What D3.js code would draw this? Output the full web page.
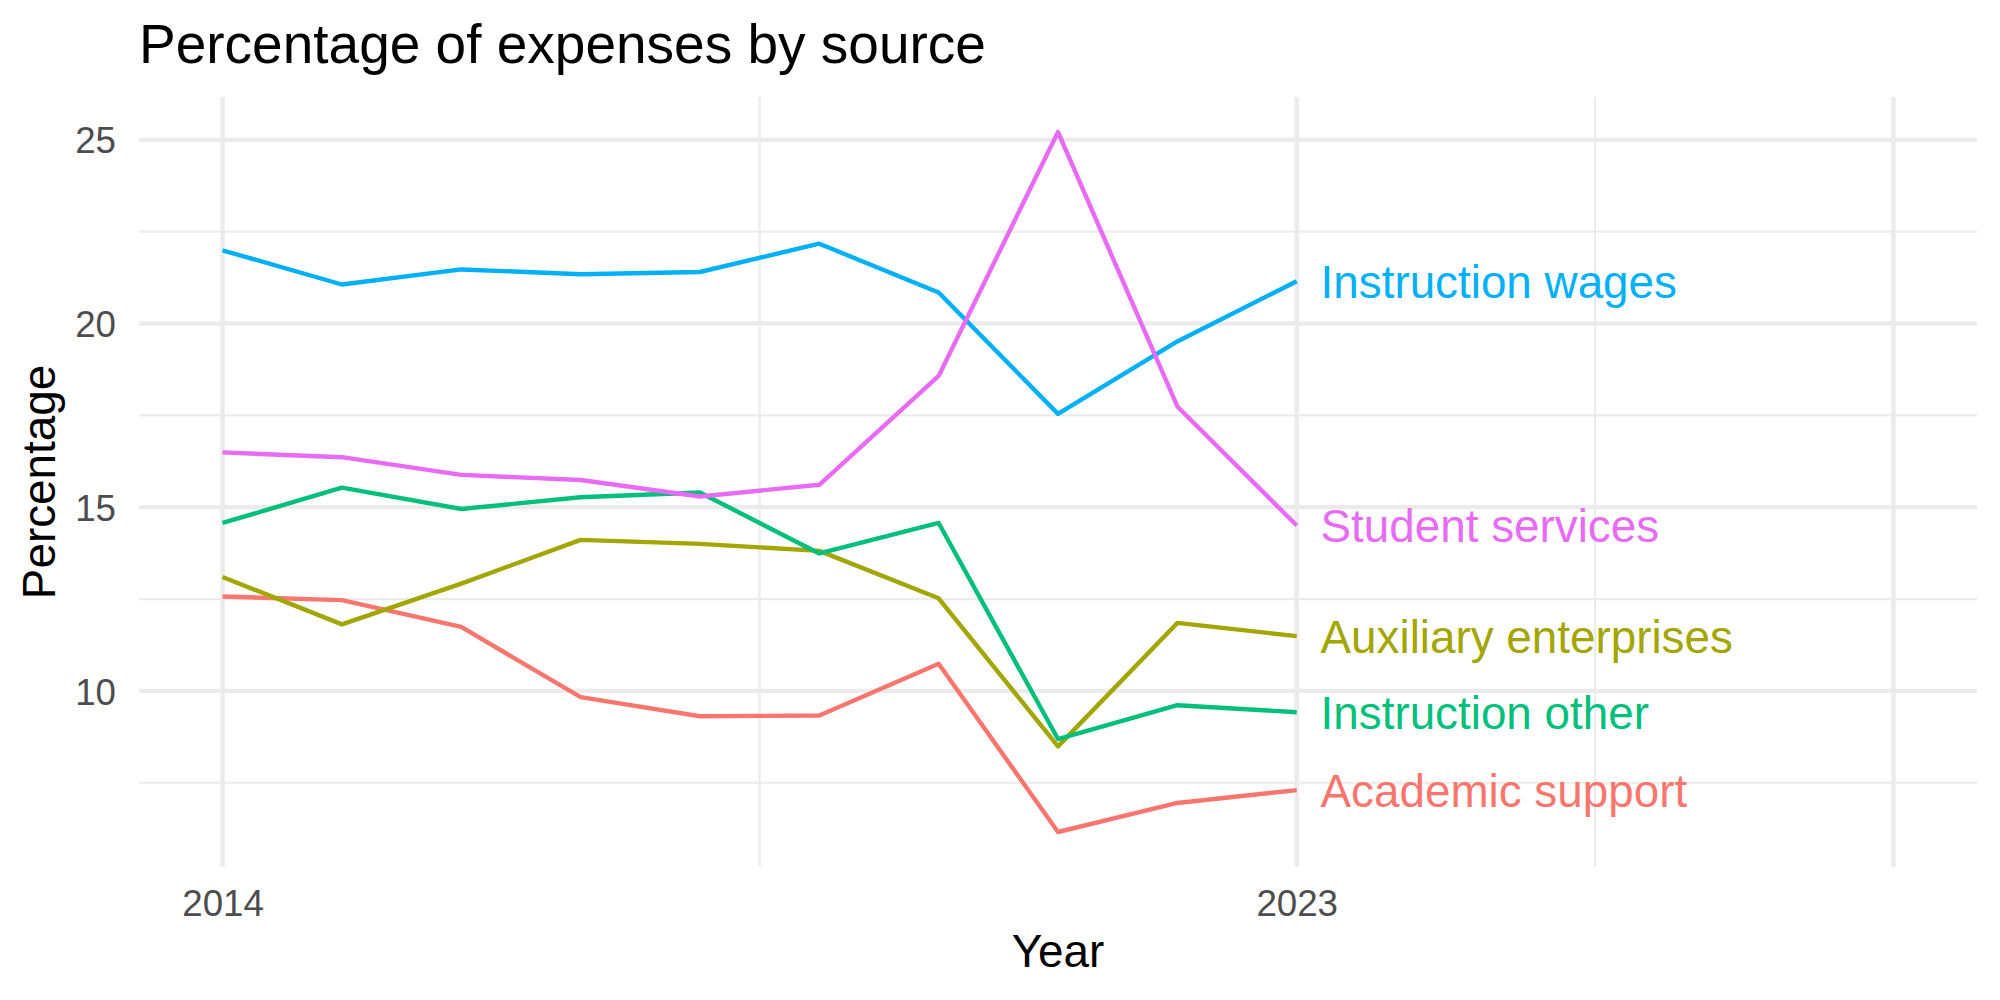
<!DOCTYPE html>
<html>
<head>
<meta charset="utf-8">
<script src="https://cdn.jsdelivr.net/npm/d3@7"></script>
<style>
  html, body { margin: 0; padding: 0; background: #fff; }
  text { font-family: "Liberation Sans", Arial, Helvetica, sans-serif; }
</style>
</head>
<body>
<div id="chart"></div>
<script>
// values
const years = [2014, 2015, 2016, 2017, 2018, 2019, 2020, 2021, 2022, 2023];
const categories = ["Academic support", "Auxiliary enterprises", "Instruction other", "Instruction wages", "Student services"];
const academicSupport = [12.57, 12.47, 11.74, 9.83, 9.31, 9.33, 10.74, 6.16, 6.95, 7.30];
const auxiliaryEnterprises = [13.10, 11.81, 12.92, 14.11, 14.00, 13.81, 12.52, 8.49, 11.85, 11.49];
const instructionOther = [14.57, 15.53, 14.95, 15.27, 15.40, 13.74, 14.57, 8.69, 9.61, 9.42];
const instructionWages = [21.99, 21.06, 21.47, 21.34, 21.40, 22.17, 20.84, 17.54, 19.51, 21.15];
const studentServices = [16.49, 16.36, 15.88, 15.74, 15.29, 15.61, 18.57, 25.21, 17.74, 14.50];
const seriesValues = [academicSupport, auxiliaryEnterprises, instructionOther, instructionWages, studentServices];
const colors = ["#F8766D", "#A3A500", "#00BF7D", "#00B0F6", "#E76BF3"];

const xLimits = [2014, 2028];
const xBreaks = [2014, 2023, 2028];
const xTickLabels = ["2014", "2023", ""];
const yBreaks = [10, 15, 20, 25];
const labelNudge = 0.2;

const width = 2000, height = 1000;
const margin = { top: 97, right: 23, bottom: 133, left: 139 };

const series = categories.map((name, i) => ({
    name: name,
    color: colors[i],
    values: years.map((yr, j) => ({ year: yr, value: seriesValues[i][j] }))
}));

// ggplot-style 5% expansion
const expand = (lo, hi) => {
    const pad = (hi - lo) * 0.05;
    return [lo - pad, hi + pad];
};

const allValues = seriesValues.flat();
const x = d3.scaleLinear()
    .domain(expand(xLimits[0], xLimits[1]))
    .range([margin.left, width - margin.right]);
const y = d3.scaleLinear()
    .domain(expand(d3.min(allValues), d3.max(allValues)))
    .range([height - margin.bottom, margin.top]);

const xMinor = d3.pairs(xBreaks).map(p => (p[0] + p[1]) / 2);
const yMinor = d3.pairs(yBreaks).map(p => (p[0] + p[1]) / 2);
yMinor.unshift(yBreaks[0] - 2.5);

const svg = d3.select("#chart")
    .append("svg")
    .attr("width", width)
    .attr("height", height);

const grid = svg.append("g").attr("stroke", "#EBEBEB");

grid.selectAll(".minor-y")
    .data(yMinor.filter(v => v >= y.domain()[0]))
    .enter()
    .append("line")
    .attr("x1", margin.left)
    .attr("x2", width - margin.right)
    .attr("y1", d => y(d))
    .attr("y2", d => y(d))
    .attr("stroke-width", 2.2);

grid.selectAll(".minor-x")
    .data(xMinor)
    .enter()
    .append("line")
    .attr("x1", d => x(d))
    .attr("x2", d => x(d))
    .attr("y1", margin.top)
    .attr("y2", height - margin.bottom)
    .attr("stroke-width", 2.2);

grid.selectAll(".major-y")
    .data(yBreaks)
    .enter()
    .append("line")
    .attr("x1", margin.left)
    .attr("x2", width - margin.right)
    .attr("y1", d => y(d))
    .attr("y2", d => y(d))
    .attr("stroke-width", 4.4);

grid.selectAll(".major-x")
    .data(xBreaks)
    .enter()
    .append("line")
    .attr("x1", d => x(d))
    .attr("x2", d => x(d))
    .attr("y1", margin.top)
    .attr("y2", height - margin.bottom)
    .attr("stroke-width", 4.4);

// axes: d3 axes with the domain and ticks hidden, like theme_minimal
const xAxis = svg.append("g")
    .attr("transform", `translate(0,${height - margin.bottom})`)
    .call(d3.axisBottom(x).tickValues(xBreaks).tickFormat((d, i) => xTickLabels[i]).tickSize(0));
xAxis.select(".domain").remove();
xAxis.selectAll("text")
    .attr("y", 48.5)
    .attr("dy", null)
    .attr("fill", "#4D4D4D")
    .style("font-size", "36.7px")
    .style("font-family", "'Liberation Sans', Arial, sans-serif");

const yAxis = svg.append("g")
    .attr("transform", `translate(${margin.left},0)`)
    .call(d3.axisLeft(y).tickValues(yBreaks).tickSize(0));
yAxis.select(".domain").remove();
yAxis.selectAll("text")
    .attr("x", -23)
    .attr("dy", "0.36em")
    .attr("fill", "#4D4D4D")
    .style("font-size", "36.7px")
    .style("font-family", "'Liberation Sans', Arial, sans-serif");

const line = d3.line()
    .x(d => x(d.year))
    .y(d => y(d.value));

svg.append("g")
    .selectAll("path")
    .data(series)
    .enter()
    .append("path")
    .attr("d", d => line(d.values))
    .attr("fill", "none")
    .attr("stroke", d => d.color)
    .attr("stroke-width", 4.4)
    .attr("stroke-linejoin", "round");

// end labels
svg.append("g")
    .selectAll("text")
    .data(series)
    .enter()
    .append("text")
    .attr("x", d => x(d.values[d.values.length - 1].year + labelNudge))
    .attr("y", d => y(d.values[d.values.length - 1].value))
    .attr("dy", "0.36em")
    .attr("fill", d => d.color)
    .style("font-size", "45.8px")
    .text(d => d.name);

svg.append("text")
    .attr("x", margin.left)
    .attr("y", 63)
    .attr("fill", "#000")
    .style("font-size", "55px")
    .text("Percentage of expenses by source");

svg.append("text")
    .attr("x", (margin.left + width - margin.right) / 2)
    .attr("y", 966.5)
    .attr("text-anchor", "middle")
    .attr("fill", "#000")
    .style("font-size", "45.8px")
    .text("Year");

svg.append("text")
    .attr("transform", `translate(55,${(margin.top + height - margin.bottom) / 2}) rotate(-90)`)
    .attr("text-anchor", "middle")
    .attr("fill", "#000")
    .style("font-size", "45.8px")
    .text("Percentage");
</script>
</body>
</html>
